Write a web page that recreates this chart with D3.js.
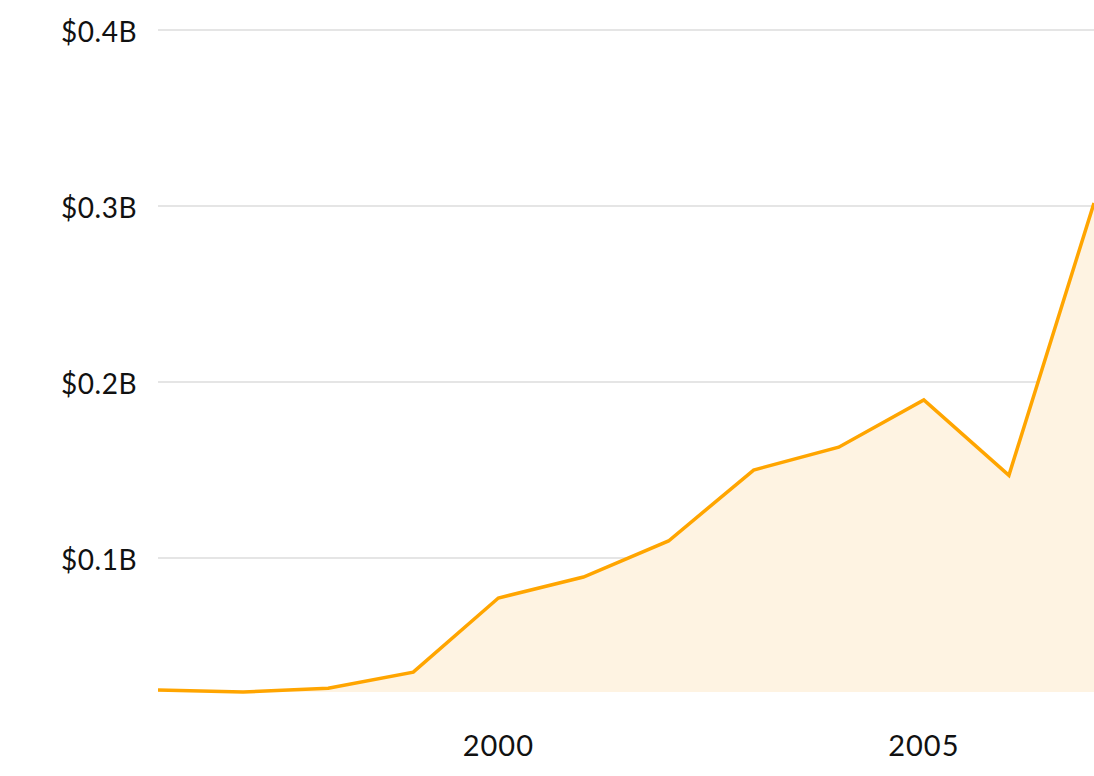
<!DOCTYPE html>
<html>
<head>
<meta charset="utf-8">
<script src="https://cdn.jsdelivr.net/npm/d3@7"></script>
<style>
  html, body { margin: 0; padding: 0; background: #fff; }
  svg { display: block; }
  text { font-family: "Lato", "Noto Sans", sans-serif; fill: #111; }
</style>
</head>
<body>
<svg id="chart" width="1094" height="776"></svg>
<script>
const years = [1996, 1997, 1998, 1999, 2000, 2001, 2002, 2003, 2004, 2005, 2006, 2007];
const values = [0.025, 0.0239, 0.026, 0.0352, 0.0773, 0.0892, 0.1097, 0.150, 0.163, 0.1898, 0.147, 0.3017]; // billions USD
const yTicks = [0.1, 0.2, 0.3, 0.4];
const xTicks = [2000, 2005];

const W = 1094, H = 776;
const margin = { top: 30, right: 0, bottom: 84, left: 158 };

const svg = d3.select("#chart");
const x = d3.scaleLinear().domain([years[0], years[years.length - 1]]).range([margin.left, W - margin.right]);
const y = d3.scaleLinear().domain([d3.min(values), 0.4]).range([H - margin.bottom, margin.top]);

// gridlines
svg.append("g")
  .selectAll("line").data(yTicks).join("line")
  .attr("x1", margin.left).attr("x2", W)
  .attr("y1", d => y(d)).attr("y2", d => y(d))
  .attr("stroke", "#dcdcdc").attr("stroke-width", 1.5);

// y labels
svg.append("g")
  .selectAll("text").data(yTicks).join("text")
  .attr("x", 137).attr("y", d => y(d) + 1)
  .attr("text-anchor", "end").attr("dominant-baseline", "central")
  .attr("font-size", 28).attr("letter-spacing", 0.5)
  .text(d => "$" + d3.format(".1f")(d) + "B");

const data = years.map((yr, i) => ({ yr, v: values[i] }));

svg.append("path").datum(data)
  .attr("fill", "#fef3e2")
  .attr("d", d3.area().x(d => x(d.yr)).y0(y(d3.min(values))).y1(d => y(d.v)));

svg.append("path").datum(data)
  .attr("fill", "none").attr("stroke", "#ffa500").attr("stroke-width", 3.5)
  .attr("stroke-linejoin", "miter")
  .attr("d", d3.line().x(d => x(d.yr)).y(d => y(d.v)));

// x labels
svg.append("g")
  .selectAll("text").data(xTicks).join("text")
  .attr("x", d => x(d)).attr("y", 744)
  .attr("text-anchor", "middle").attr("dominant-baseline", "central")
  .attr("font-size", 29).attr("letter-spacing", 1)
  .text(d => d);
</script>
</body>
</html>
